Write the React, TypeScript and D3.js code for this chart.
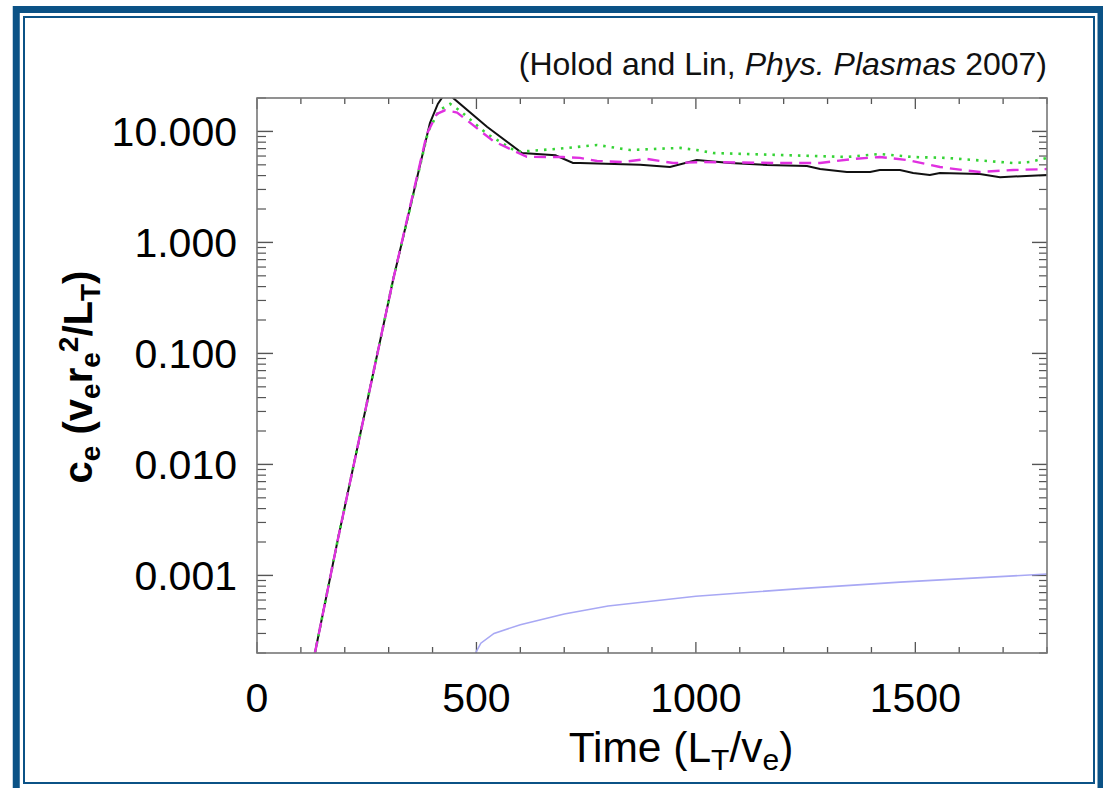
import React from "react";
import * as d3 from "d3";

const W = 1103;
const H = 788;

// x ticks (time)
const xMajorTicks = [0, 500, 1000, 1500];
const xMinorTicks = d3.range(0, 1801, 100);
// y decade labels
const yMajorTicks = [0.001, 0.01, 0.1, 1, 10];
const yTickLabels = ["0.001", "0.010", "0.100", "1.000", "10.000"];

// series: [time, value]
const blackSeries: [number, number][] = [
  [132, 2.0e-4], [184, 2.09e-3], [310, 0.458], [394, 11.9], [412, 17.7], [430, 22.5],
  [440, 22.5], [447, 20.0], [524, 11.0], [604, 6.4], [680, 6.1], [720, 5.19], [736, 5.19],
  [873, 5.0], [941, 4.78], [1002, 5.53], [1078, 5.19], [1162, 4.98], [1253, 4.88],
  [1283, 4.58], [1344, 4.31], [1397, 4.31], [1419, 4.49], [1465, 4.49], [1495, 4.22],
  [1533, 4.05], [1556, 4.22], [1647, 4.13], [1693, 3.87], [1800, 4.05],
];
const magentaSeries: [number, number][] = [
  [132, 2.0e-4], [184, 2.09e-3], [310, 0.458], [387, 9.48], [410, 14.4], [428, 15.5],
  [456, 14.8], [538, 8.2], [615, 5.9], [697, 5.88], [736, 5.77], [775, 5.42], [834, 5.3],
  [888, 5.65], [948, 5.19], [1016, 5.3], [1191, 5.19], [1283, 5.19], [1358, 5.65],
  [1419, 5.88], [1481, 5.53], [1556, 4.78], [1608, 4.49], [1647, 4.31], [1723, 4.49],
  [1800, 4.58],
];
const greenSeries: [number, number][] = [
  [132, 2.0e-4], [184, 2.09e-3], [310, 0.458], [390, 10.0], [415, 15.5], [440, 17.7],
  [463, 15.3], [524, 9.5], [592, 6.53], [690, 7.0], [775, 7.55], [850, 6.8], [964, 7.1],
  [1002, 6.8], [1039, 6.39], [1191, 6.13], [1344, 5.88], [1419, 6.26], [1494, 5.88],
  [1572, 5.77], [1723, 5.19], [1760, 5.3], [1800, 5.77],
];
const lavenderSeries: [number, number][] = [
  [495, 1.9e-4], [510, 2.45e-4], [540, 3.0e-4], [600, 3.6e-4], [700, 4.5e-4], [800, 5.3e-4],
  [1000, 6.5e-4], [1237, 7.6e-4], [1465, 8.7e-4], [1800, 1.03e-3],
];

const PL = 257, PR = 1047, PT = 98, PB = 653;

export default function App() {
  const x = d3.scaleLinear().domain([0, 1800]).range([PL, PR]);
  const y = d3.scaleLog().domain([2e-4, 20]).range([PB, PT]);
  const line = d3.line<[number, number]>().x(d => x(d[0])).y(d => y(d[1]));

  const yMinor: number[] = [];
  for (let e = -4; e <= 1; e++) {
    for (let m = 2; m <= 9; m++) {
      const v = m * Math.pow(10, e);
      if (v >= 2e-4 && v <= 20) yMinor.push(v);
    }
  }

  const font = "'Liberation Sans', Arial, sans-serif";
  const blue = "#0b5286";
  const tickCol = "#555";

  return (
    <svg width={W} height={H} style={{ position: "absolute", left: 0, top: 0, background: "#fff" }} fontFamily={font}>
      <rect x={0} y={0} width={W} height={H} fill="#fff" />
      {/* frame */}
      <rect x={16.25} y={9.5} width={1084.75} height={785} fill="none" stroke={blue} strokeWidth={7} />
      <rect x={24} y={17} width={1070} height={766} fill="none" stroke={blue} strokeWidth={2} />

      {/* citation */}
      <text x={1047} y={75} fontSize={32} textAnchor="end" fill="#111">
        (Holod and Lin, <tspan fontStyle="italic">Phys. Plasmas</tspan> 2007)
      </text>

      <defs>
        <clipPath id="plotclip">
          <rect x={PL} y={PT} width={PR - PL} height={PB - PT} />
        </clipPath>
      </defs>

      {/* ticks x */}
      {xMinorTicks.map(t => {
        const len = xMajorTicks.includes(t) ? 11 : 6;
        return (
          <g key={"xt" + t}>
            <line x1={x(t)} x2={x(t)} y1={PB} y2={PB - len} stroke={tickCol} strokeWidth={1.3} />
            <line x1={x(t)} x2={x(t)} y1={PT} y2={PT + len} stroke={tickCol} strokeWidth={1.3} />
          </g>
        );
      })}
      {/* ticks y */}
      {yMajorTicks.map(v => (
        <g key={"ym" + v}>
          <line x1={PL} x2={PL + 16} y1={y(v)} y2={y(v)} stroke={tickCol} strokeWidth={1.4} />
          <line x1={PR} x2={PR - 15} y1={y(v)} y2={y(v)} stroke={tickCol} strokeWidth={1.4} />
        </g>
      ))}
      {yMinor.map(v => (
        <g key={"yn" + v}>
          <line x1={PL} x2={PL + 9} y1={y(v)} y2={y(v)} stroke={tickCol} strokeWidth={1.2} />
          <line x1={PR} x2={PR - 8} y1={y(v)} y2={y(v)} stroke={tickCol} strokeWidth={1.2} />
        </g>
      ))}

      {/* series */}
      <g clipPath="url(#plotclip)" fill="none">
        <path d={line(lavenderSeries) || ""} stroke="#a8a8f4" strokeWidth={1.6} />
        <path d={line(blackSeries) || ""} stroke="#111" strokeWidth={2} />
        <path d={line(greenSeries) || ""} stroke="#35d335" strokeWidth={2.6} strokeDasharray="2.5,6" />
        <path d={line(magentaSeries) || ""} stroke="#e030e0" strokeWidth={2.4} strokeDasharray="12,7" />
      </g>

      {/* plot frame */}
      <rect x={PL} y={PT} width={PR - PL} height={PB - PT} fill="none" stroke="#777" strokeWidth={1.6} />

      {/* tick labels */}
      {yMajorTicks.map((v, i) => (
        <text key={"yl" + v} x={237} y={y(v) + 15} fontSize={41} textAnchor="end" fill="#000">
          {yTickLabels[i]}
        </text>
      ))}
      {xMajorTicks.map(t => (
        <text key={"xl" + t} x={x(t)} y={712} fontSize={41} textAnchor="middle" fill="#000">
          {String(t)}
        </text>
      ))}

      {/* x title */}
      <text x={681} y={762} fontSize={42.5} textAnchor="middle" fill="#000">
        Time (L<tspan fontSize={30} dy={8}>T</tspan><tspan dy={-8}>/v</tspan>
        <tspan fontSize={30} dy={8}>e</tspan><tspan dy={-8}>)</tspan>
      </text>

      {/* y title */}
      <text transform="translate(92,377) rotate(-90)" fontSize={40} fontWeight="bold" textAnchor="middle" fill="#000">
        c<tspan fontSize={28} dy={8}>e</tspan><tspan dy={-8}> (v</tspan>
        <tspan fontSize={28} dy={8}>e</tspan><tspan dy={-8}>r</tspan>
        <tspan fontSize={28} dy={8}>e</tspan><tspan fontSize={28} dy={-22}>2</tspan>
        <tspan dy={14}>/L</tspan>
        <tspan fontSize={28} dy={8}>T</tspan><tspan dy={-8}>)</tspan>
      </text>
    </svg>
  );
}
